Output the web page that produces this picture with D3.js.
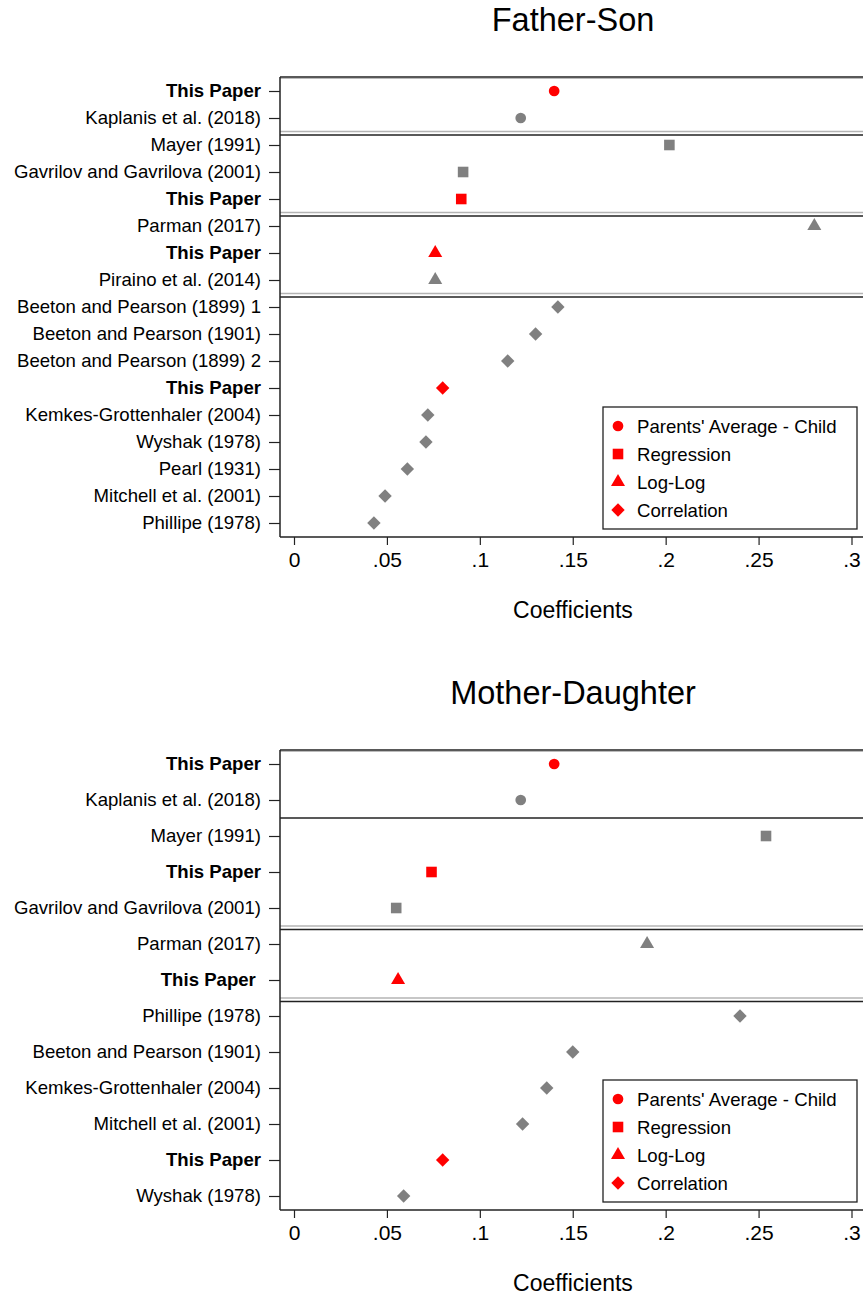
<!DOCTYPE html>
<html>
<head>
<meta charset="utf-8">
<script src="https://cdn.jsdelivr.net/npm/d3@7"></script>
<style>
  body { margin: 0; background: #fff; }
  svg text { font-family: "Liberation Sans", Arial, Helvetica, sans-serif; }
</style>
</head>
<body>
<div id="chart"></div>
<script>
// ---- data ----
var fsLabels = ["This Paper", "Kaplanis et al. (2018)", "Mayer (1991)", "Gavrilov and Gavrilova (2001)",
  "This Paper", "Parman (2017)", "This Paper", "Piraino et al. (2014)",
  "Beeton and Pearson (1899) 1", "Beeton and Pearson (1901)", "Beeton and Pearson (1899) 2",
  "This Paper", "Kemkes-Grottenhaler (2004)", "Wyshak (1978)", "Pearl (1931)",
  "Mitchell et al. (2001)", "Phillipe (1978)"];
var fsValues = [0.140, 0.122, 0.202, 0.091, 0.090, 0.280, 0.076, 0.076,
  0.142, 0.130, 0.115, 0.080, 0.072, 0.071, 0.061, 0.049, 0.043];
var fsType = ["circle", "circle", "square", "square", "square", "triangle", "triangle", "triangle",
  "diamond", "diamond", "diamond", "diamond", "diamond", "diamond", "diamond", "diamond", "diamond"];
var fsOwn = [1, 0, 0, 0, 1, 0, 1, 0, 0, 0, 0, 1, 0, 0, 0, 0, 0];
// divider after row index: [index, has grey line]
var fsBreaks = [[1, true], [4, true], [7, true]];

var mdLabels = ["This Paper", "Kaplanis et al. (2018)", "Mayer (1991)", "This Paper",
  "Gavrilov and Gavrilova (2001)", "Parman (2017)", "This Paper\u00a0", "Phillipe (1978)",
  "Beeton and Pearson (1901)", "Kemkes-Grottenhaler (2004)", "Mitchell et al. (2001)",
  "This Paper", "Wyshak (1978)"];
var mdValues = [0.140, 0.122, 0.254, 0.074, 0.055, 0.190, 0.056, 0.240,
  0.150, 0.136, 0.123, 0.080, 0.059];
var mdType = ["circle", "circle", "square", "square", "square", "triangle", "triangle",
  "diamond", "diamond", "diamond", "diamond", "diamond", "diamond"];
var mdOwn = [1, 0, 0, 1, 0, 0, 1, 0, 0, 0, 0, 1, 0];
var mdBreaks = [[1, false], [4, true], [6, true]];

var xTicks = [0, 0.05, 0.1, 0.15, 0.2, 0.25, 0.3];
var legendLabels = ["Parents' Average - Child", "Regression", "Log-Log", "Correlation"];
var legendTypes = ["circle", "square", "triangle", "diamond"];

var red = "#ff0000", grey = "#808080";

var svg = d3.select("#chart").append("svg")
    .attr("width", 863)
    .attr("height", 1298);

var symbolOf = {
  circle: d3.symbol().type(d3.symbolCircle).size(90),
  square: d3.symbol().type(d3.symbolSquare).size(112),
  triangle: d3.symbol().type(d3.symbolTriangle).size(85),
  diamond: d3.symbol().type(d3.symbolSquare).size(90)
};
function drawSymbol(g, type, x, y, color) {
  g.append("path")
    .attr("d", symbolOf[type]())
    .attr("transform", "translate(" + x + "," + y + ")" + (type == "diamond" ? " rotate(45)" : ""))
    .attr("fill", color);
}

function drawPanel(opt) {
  var left = 280, right = 866;
  var x = d3.scaleLinear().domain([0, 0.3]).range([294, 851.5]);
  var y = d3.scalePoint().domain(d3.range(opt.labels.length))
      .range([opt.top + 14, opt.bottom - 14]);
  var step = y.step();

  var g = svg.append("g");

  g.append("text")
    .attr("x", (left + right) / 2)
    .attr("y", opt.top - 46)
    .attr("text-anchor", "middle")
    .style("font-size", "32.5px")
    .text(opt.title);

  // frame
  g.append("line").attr("x1", left).attr("x2", right).attr("y1", opt.top + 1.5).attr("y2", opt.top + 1.5)
    .attr("stroke", "#bbb").attr("stroke-width", 1.2);
  g.append("line").attr("x1", left).attr("x2", right).attr("y1", opt.top).attr("y2", opt.top)
    .attr("stroke", "#222").attr("stroke-width", 1.5);

  // group dividers
  opt.breaks.forEach(function (b) {
    var yy = y(b[0]) + step / 2;
    if (b[1]) {
      g.append("line").attr("x1", left).attr("x2", right).attr("y1", yy).attr("y2", yy)
        .attr("stroke", "#b4b4b4").attr("stroke-width", 1.5);
      g.append("line").attr("x1", left).attr("x2", right).attr("y1", yy + 3.5).attr("y2", yy + 3.5)
        .attr("stroke", "#222").attr("stroke-width", 1.5);
    } else {
      g.append("line").attr("x1", left).attr("x2", right).attr("y1", yy).attr("y2", yy)
        .attr("stroke", "#222").attr("stroke-width", 1.5);
    }
  });

  // y axis
  var yAxis = d3.axisLeft(y).tickSize(11).tickPadding(8)
      .tickFormat(function (i) { return opt.labels[i]; });
  var ya = g.append("g")
    .attr("transform", "translate(" + left + ",0)")
    .call(yAxis);
  ya.select(".domain").attr("stroke", "#222").attr("stroke-width", 1.5)
    .attr("d", "M0," + opt.top + "V" + opt.bottom);
  ya.selectAll(".tick line").attr("stroke", "#222").attr("stroke-width", 1.2);
  ya.selectAll(".tick text")
    .style("font-size", "18.6px")
    .style("white-space", "pre")
    .attr("fill", "#000")
    .style("font-weight", function (i) { return opt.own[i] ? "bold" : "normal"; });

  // x axis
  var xAxis = d3.axisBottom(x).tickValues(xTicks).tickSize(8).tickPadding(7)
      .tickFormat(function (d) { return d == 0 ? "0" : d3.format(".2~f")(d).replace(/^0/, ""); });
  var xa = g.append("g")
    .attr("transform", "translate(0," + opt.bottom + ")")
    .call(xAxis);
  xa.select(".domain").attr("stroke", "#222").attr("stroke-width", 1.5)
    .attr("d", "M" + left + ",0H" + right);
  xa.selectAll(".tick line").attr("stroke", "#222").attr("stroke-width", 1.2);
  xa.selectAll(".tick text").style("font-size", "21px").attr("fill", "#000");

  g.append("text")
    .attr("x", (left + right) / 2)
    .attr("y", opt.bottom + 81)
    .attr("text-anchor", "middle")
    .style("font-size", "23px")
    .text("Coefficients");

  // points
  opt.values.forEach(function (v, i) {
    drawSymbol(g, opt.types[i], x(v), y(i), opt.own[i] ? red : grey);
  });

  // legend
  var lg = g.append("g").attr("transform", "translate(603," + opt.legendTop + ")");
  lg.append("rect").attr("width", 254).attr("height", 122)
    .attr("fill", "#fff").attr("stroke", "#222").attr("stroke-width", 1.3);
  legendLabels.forEach(function (l, i) {
    drawSymbol(lg, legendTypes[i], 15, 19 + i * 28, red);
    lg.append("text").attr("x", 34).attr("y", 19 + i * 28).attr("dy", "0.36em")
      .style("font-size", "18.6px").text(l);
  });
}

drawPanel({ title: "Father-Son", top: 77, bottom: 537, labels: fsLabels, values: fsValues,
  types: fsType, own: fsOwn, breaks: fsBreaks, legendTop: 407 });
drawPanel({ title: "Mother-Daughter", top: 750, bottom: 1210, labels: mdLabels, values: mdValues,
  types: mdType, own: mdOwn, breaks: mdBreaks, legendTop: 1080 });
</script>
</body>
</html>
